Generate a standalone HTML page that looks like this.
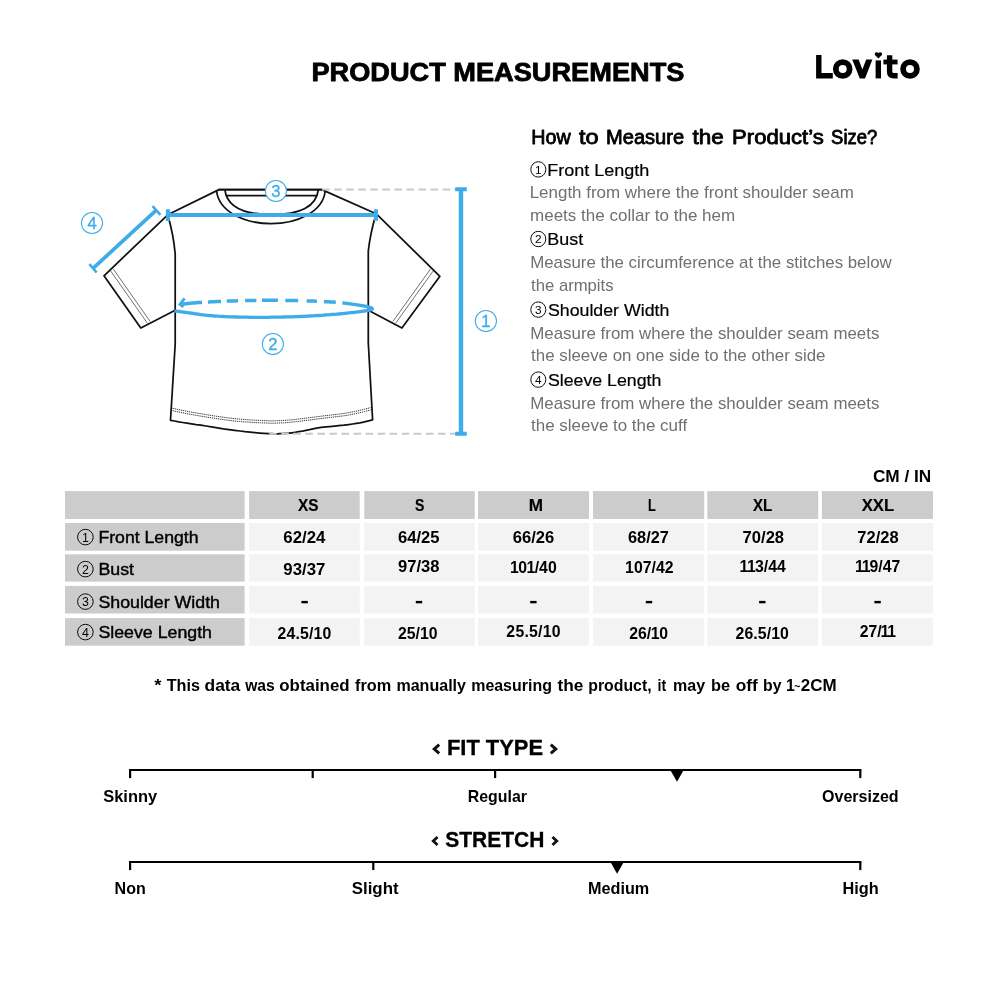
<!DOCTYPE html>
<html lang="en"><head><meta charset="utf-8"><title>Product Measurements</title>
<style>html,body{margin:0;padding:0;background:#fff;}body{width:1000px;height:1000px;overflow:hidden;font-family:"Liberation Sans",sans-serif;}svg{display:block;font-family:"Liberation Sans",sans-serif;will-change:transform;transform:translateZ(0);}text{white-space:pre;}</style></head><body>
<svg width="1000" height="1000" viewBox="0 0 1000 1000">
<rect width="1000" height="1000" fill="#fff"/>
<text x="311.4" y="81.4" font-size="26.2" font-weight="bold" fill="#000" text-anchor="start" textLength="373" lengthAdjust="spacingAndGlyphs" stroke="#000" stroke-width="0.8" stroke-linejoin="round">PRODUCT MEASUREMENTS</text>
<g id="logo" fill="none" stroke="#000">
<path d="M818.8 55 V75.8 H832.8" stroke-width="5.4" stroke-linejoin="miter"/>
<circle cx="842.7" cy="69" r="6.9" stroke-width="5.8"/>
<path d="M878.3 60.4 V78.4" stroke-width="5.4"/>
<path d="M889.6 55.2 V71.6 Q889.6 75.8 894 75.8 H897.6" stroke-width="5.4"/>
<path d="M883.4 62 H897.6" stroke-width="4.8"/>
<circle cx="910" cy="69" r="6.9" stroke-width="5.8"/>
</g>
<path d="M852.2 59.6 H858.6 L862.4 69.6 L866.2 59.6 H872.4 L865 78.4 H859.8 Z" fill="#000"/>
<path d="M878.4 58.5 L874.7 54.7 Q874.5 52.3 876.7 52.3 Q877.8 52.3 878.4 53.3 Q879 52.3 880.1 52.3 Q882.3 52.3 882.1 54.7 Z" fill="#000"/>
<g id="shirt" fill="none" stroke="#111" stroke-width="1.75" stroke-linejoin="round" stroke-linecap="round">
<path d="M219 189.6 L167.7 214.8 Q173.6 235 175.2 254 L175.2 344 L170.5 420.3 L174.6 421.0 L178.6 421.8 L182.7 422.5 L187.0 423.2 L191.5 423.9 L196.1 424.6 L200.9 425.2 L206.0 426.0 L211.5 426.9 L217.4 427.8 L223.3 428.8 L229.0 429.6 L234.5 430.3 L239.8 431.0 L245.0 431.7 L250.0 432.2 L254.9 432.7 L259.6 433.1 L264.0 433.4 L268.0 433.6 L271.4 433.7 L274.4 433.8 L277.1 433.8 L280.0 433.7 L283.0 433.6 L285.9 433.4 L288.9 433.2 L292.0 432.8 L295.3 432.3 L298.8 431.7 L302.4 431.1 L306.0 430.4 L309.5 429.7 L312.9 428.9 L316.7 428.1 L321.0 427.4 L326.4 426.8 L332.4 426.3 L338.6 425.7 L344.0 425.2 L348.6 424.6 L352.7 424.0 L356.4 423.4 L360.0 422.8 L363.4 422.1 L366.5 421.3 L369.5 420.6 L372.6 419.8 L368.3 343 L368.3 251 Q370.3 233 376.1 213.7 L321.8 189.6 Z" fill="#fff"/>
<path d="M167.7 214.8 L104 275.8 L140.8 328 L175.2 310.3"/>
<path d="M376.1 213.7 L439.9 276.3 L401.9 328 L368.3 310.3"/>
<path d="M219 189.6 H321.8"/>
<path d="M226.6 195.6 H316.2"/>
<path d="M216.6 191 C219 212 245 223.6 271 223.6 C297 223.6 323 212 325.2 191"/>
<path d="M224.9 189.8 C226.5 203 238 214.5 271.6 214.5 C305.2 214.5 316.7 203 318.3 189.8"/>
</g>
<g fill="none" stroke="#333" stroke-width="0.7">
<path d="M110.7 271 L147.4 323.2 M113.4 269.2 L150 321.3"/>
<path d="M433.2 271 L395.6 323.2 M430.4 269.2 L393 321.3"/>
</g>
<g fill="none" stroke="#222" stroke-width="0.9" stroke-dasharray="1.3 0.8">
<path d="M172.6 408.3 L176.4 409.1 L180.1 409.9 L184.0 410.7 L188.0 411.5 L192.2 412.3 L196.5 413.0 L201.1 413.8 L206.0 414.6 L211.4 415.5 L217.3 416.4 L223.3 417.2 L229.0 418.0 L234.4 418.6 L239.7 419.1 L244.8 419.5 L250.0 419.9 L255.3 420.2 L260.7 420.5 L265.8 420.7 L270.4 420.8 L274.3 420.8 L277.6 420.7 L280.7 420.6 L284.0 420.4 L287.3 420.2 L290.4 419.9 L293.9 419.6 L298.0 419.1 L303.1 418.5 L308.9 417.7 L315.0 417.0 L321.0 416.2 L327.0 415.5 L333.1 414.8 L338.9 414.1 L344.0 413.4 L348.2 412.7 L351.7 412.1 L354.8 411.5 L358.0 410.8 L361.2 410.0 L364.4 409.2 L367.5 408.4 L370.6 407.6"/>
<path d="M172.6 410.7 L176.4 411.5 L180.1 412.3 L184.0 413.1 L188.0 413.9 L192.2 414.6 L196.5 415.4 L201.1 416.2 L206.0 417.0 L211.4 417.8 L217.3 418.7 L223.3 419.6 L229.0 420.4 L234.4 421.0 L239.7 421.5 L244.8 421.9 L250.0 422.2 L255.3 422.6 L260.7 422.8 L265.8 423.0 L270.4 423.2 L274.3 423.2 L277.6 423.1 L280.7 422.9 L284.0 422.8 L287.3 422.5 L290.4 422.3 L293.9 421.9 L298.0 421.5 L303.1 420.8 L308.9 420.1 L315.0 419.3 L321.0 418.6 L327.0 417.8 L333.1 417.1 L338.9 416.4 L344.0 415.8 L348.2 415.1 L351.7 414.5 L354.8 413.8 L358.0 413.2 L361.2 412.4 L364.4 411.6 L367.5 410.8 L370.6 410.0"/>
</g>
<g fill="none" stroke="#c9c9c9" stroke-width="1.9" stroke-dasharray="7.6 4.45">
<path d="M322.1 189.5 H456"/>
<path d="M269.15 433.7 H456"/>
</g>
<g id="measure" fill="none" stroke="#3dace8">
<path d="M461.0 188 V435" stroke-width="4.4"/>
<path d="M455.2 189.2 H466.8 M455.2 433.7 H466.8" stroke-width="4"/>
<path d="M167 214.9 H378" stroke-width="4"/>
<path d="M167.9 209.2 V221 M376.0 209.2 V220.8" stroke-width="4"/>
<path d="M156.3 210.2 L93 268.4" stroke-width="3.7"/>
<path d="M152.6 206.2 L160.4 214.8 M89.4 264.2 L96.6 272.5" stroke-width="2.6"/>
<path d="M342.4 302.9 L343.3 303.0 L344.2 303.1 L345.0 303.2 L345.8 303.3 L346.6 303.4 L347.4 303.5 L348.1 303.6 L348.9 303.7 L349.7 303.8 L350.4 303.9 L351.2 304.0 L352.0 304.1 L352.8 304.2 L353.6 304.3 L354.5 304.5 L355.3 304.6 L356.1 304.7 L357.0 304.8 L357.8 305.0 L358.6 305.1 L359.4 305.2 L360.2 305.4 L360.9 305.5 L361.6 305.6 L362.3 305.7 L362.9 305.8 L363.6 305.9 L364.2 306.0 L364.8 306.1 L365.4 306.2 L365.9 306.3 L366.4 306.4 L367.0 306.5 L367.5 306.7 L367.9 306.8 L368.4 306.9 L368.9 307.0 L369.3 307.2 L369.8 307.3 L370.2 307.5 L370.7 307.6 L371.1 307.8 L371.4 307.9 L371.8 308.1 L372.0 308.3 L372.2 308.4 L372.4 308.6 L372.4 308.7 L372.4 308.8 L372.2 309.0 L372.1 309.1 L371.8 309.3 L371.5 309.4 L371.2 309.5 L370.8 309.7 L370.4 309.8 L369.9 309.9 L369.4 310.1 L368.9 310.2 L368.4 310.3 L367.9 310.4 L367.4 310.5 L366.9 310.6 L366.4 310.7 L365.8 310.8 L365.2 310.9 L364.5 311.0 L363.8 311.1 L363.0 311.2 L362.1 311.3 L361.1 311.5 L360.0 311.6 L358.7 311.8 L357.3 311.9 L355.8 312.1 L354.2 312.3 L352.5 312.5 L350.7 312.7 L348.9 312.9 L347.1 313.1 L345.3 313.3 L343.5 313.5 L341.7 313.6 L340.0 313.8 L338.3 314.0 L336.7 314.1 L335.0 314.3 L333.3 314.4 L331.7 314.5 L330.0 314.7 L328.3 314.8 L326.7 314.9 L325.0 315.0 L323.3 315.2 L321.7 315.3 L320.0 315.4 L318.3 315.5 L316.7 315.6 L315.0 315.7 L313.3 315.8 L311.7 315.9 L310.0 316.0 L308.3 316.1 L306.7 316.2 L305.0 316.3 L303.3 316.4 L301.7 316.4 L300.0 316.5 L298.3 316.6 L296.6 316.6 L295.0 316.7 L293.3 316.8 L291.6 316.8 L289.9 316.9 L288.2 316.9 L286.5 316.9 L284.9 317.0 L283.2 317.0 L281.6 317.1 L280.0 317.1 L278.4 317.1 L276.9 317.2 L275.3 317.2 L273.8 317.2 L272.3 317.2 L270.8 317.2 L269.3 317.3 L267.9 317.3 L266.4 317.3 L264.9 317.3 L263.5 317.3 L262.0 317.3 L260.6 317.3 L259.1 317.3 L257.8 317.3 L256.4 317.3 L255.0 317.3 L253.6 317.3 L252.2 317.3 L250.9 317.3 L249.4 317.3 L248.0 317.2 L246.5 317.2 L245.0 317.2 L243.4 317.2 L241.8 317.1 L240.2 317.1 L238.6 317.1 L236.9 317.0 L235.2 317.0 L233.5 316.9 L231.8 316.9 L230.1 316.8 L228.4 316.8 L226.7 316.7 L225.0 316.6 L223.3 316.5 L221.6 316.4 L219.9 316.3 L218.2 316.2 L216.5 316.1 L214.8 316.0 L213.0 315.8 L211.4 315.7 L209.7 315.6 L208.1 315.4 L206.5 315.3 L205.0 315.1 L203.5 314.9 L202.1 314.8 L200.7 314.6 L199.3 314.4 L198.0 314.2 L196.7 314.0 L195.4 313.8 L194.1 313.6 L192.8 313.4 L191.5 313.2 L190.3 313.0 L189.0 312.8 L187.7 312.6 L186.5 312.5 L185.3 312.3 L184.0 312.1 L182.8 312.0 L181.6 311.8 L180.4 311.7 L179.2 311.5 L178.0 311.4 L176.8 311.2 L175.6 311.1 L174.4 310.9" stroke-width="3.3" stroke-linejoin="round"/>
<path d="M181.2 304.3 L182.0 304.2 L182.7 304.1 L183.5 304.0 L184.3 303.9 L185.0 303.8 L185.8 303.8 L186.6 303.7 L187.4 303.6 L188.3 303.5 L189.1 303.4 L190.0 303.3 L190.9 303.2 L191.8 303.1 L192.7 303.0 L193.6 303.0 L194.5 302.9 L195.4 302.8 L196.4 302.7 L197.4 302.6 L198.5 302.5 L199.6 302.5 L200.7 302.4 L202.0 302.3 M207.9 302.0 L209.5 301.9 L211.2 301.8 L212.9 301.7 L214.6 301.7 L216.2 301.6 L217.9 301.5 L219.5 301.5 L221.0 301.4 M226.8 301.2 L228.2 301.1 L229.6 301.1 L231.0 301.0 L232.4 301.0 L233.8 300.9 L235.2 300.9 L236.6 300.8 L238.0 300.8 M245.1 300.6 L246.5 300.6 L247.9 300.5 L249.3 300.5 L250.8 300.5 L252.2 300.4 L253.6 300.4 L255.0 300.4 L256.4 300.4 M262.0 300.3 L263.4 300.3 L264.8 300.3 L266.3 300.3 L267.7 300.3 L269.1 300.3 L270.5 300.3 L272.0 300.3 L273.5 300.3 L274.9 300.3 L276.4 300.3 L277.9 300.3 M285.3 300.4 L286.9 300.4 L288.4 300.5 L290.0 300.5 L291.6 300.5 L293.2 300.6 L294.9 300.6 L296.5 300.6 L298.2 300.7 M306.6 300.9 L308.3 300.9 L310.0 301.0 L311.7 301.1 L313.4 301.1 L315.2 301.2 L316.9 301.3 M323.9 301.6 L325.5 301.7 L327.1 301.7 L328.6 301.8 L330.0 301.9 L331.3 302.0 L332.5 302.1 L333.7 302.1 L334.8 302.2 L335.8 302.3" stroke-width="3.5"/>
<path d="M184.6 298.3 L179.9 304.5 L183.5 306.9" stroke-width="2.8" stroke-linejoin="miter"/>
</g>
<circle cx="275.9" cy="191.0" r="10.6" fill="#fff" stroke="#3dace8" stroke-width="1.05"/>
<text x="275.9" y="196.8" font-size="16.6" font-weight="normal" fill="#3dace8" stroke="#3dace8" stroke-width="0.35" text-anchor="middle">3</text>
<circle cx="485.9" cy="321.0" r="10.6" fill="#fff" stroke="#3dace8" stroke-width="1.05"/>
<text x="485.9" y="326.8" font-size="16.6" font-weight="normal" fill="#3dace8" stroke="#3dace8" stroke-width="0.35" text-anchor="middle">1</text>
<circle cx="272.9" cy="344.0" r="10.6" fill="#fff" stroke="#3dace8" stroke-width="1.05"/>
<text x="272.9" y="349.8" font-size="16.6" font-weight="normal" fill="#3dace8" stroke="#3dace8" stroke-width="0.35" text-anchor="middle">2</text>
<circle cx="92.0" cy="223.0" r="10.6" fill="#fff" stroke="#3dace8" stroke-width="1.05"/>
<text x="92.0" y="228.8" font-size="16.6" font-weight="normal" fill="#3dace8" stroke="#3dace8" stroke-width="0.35" text-anchor="middle">4</text>
<text x="531.3" y="144.0" font-size="19.6" font-weight="normal" fill="#000" text-anchor="start" textLength="39.4" lengthAdjust="spacingAndGlyphs" stroke="#000" stroke-width="0.8" stroke-linejoin="round">How</text>
<text x="579.0" y="144.0" font-size="19.6" font-weight="normal" fill="#000" text-anchor="start" textLength="19.6" lengthAdjust="spacingAndGlyphs" stroke="#000" stroke-width="0.8" stroke-linejoin="round">to</text>
<text x="606.0" y="144.0" font-size="19.6" font-weight="normal" fill="#000" text-anchor="start" textLength="78.1" lengthAdjust="spacingAndGlyphs" stroke="#000" stroke-width="0.8" stroke-linejoin="round">Measure</text>
<text x="692.5" y="144.0" font-size="19.6" font-weight="normal" fill="#000" text-anchor="start" textLength="31.2" lengthAdjust="spacingAndGlyphs" stroke="#000" stroke-width="0.8" stroke-linejoin="round">the</text>
<text x="732.1" y="144.0" font-size="19.6" font-weight="normal" fill="#000" text-anchor="start" textLength="91.6" lengthAdjust="spacingAndGlyphs" stroke="#000" stroke-width="0.8" stroke-linejoin="round">Product’s</text>
<text x="831.1" y="144.0" font-size="19.6" font-weight="normal" fill="#000" text-anchor="start" textLength="46.2" lengthAdjust="spacingAndGlyphs" stroke="#000" stroke-width="0.8" stroke-linejoin="round">Size?</text>
<ellipse cx="538.3" cy="169.4" rx="7.5" ry="7.7" fill="none" stroke="#000" stroke-width="0.95"/>
<text x="538.3" y="173.6" font-size="11.8" font-weight="normal" fill="#000" text-anchor="middle">1</text>
<text x="547.2" y="176.1" font-size="16.7" font-weight="normal" fill="#000" text-anchor="start" textLength="102" lengthAdjust="spacingAndGlyphs" stroke="#000" stroke-width="0.2">Front Length</text>
<text x="529.7" y="197.9" font-size="16.2" font-weight="normal" fill="#707070" text-anchor="start" textLength="324.1" lengthAdjust="spacingAndGlyphs">Length from where the front shoulder seam</text>
<text x="530.0" y="221.4" font-size="16.2" font-weight="normal" fill="#707070" text-anchor="start" textLength="205.2" lengthAdjust="spacingAndGlyphs">meets the collar to the hem</text>
<ellipse cx="538.3" cy="239.0" rx="7.5" ry="7.7" fill="none" stroke="#000" stroke-width="0.95"/>
<text x="538.3" y="243.2" font-size="11.8" font-weight="normal" fill="#000" text-anchor="middle">2</text>
<text x="547.3" y="245.0" font-size="16.7" font-weight="normal" fill="#000" text-anchor="start" textLength="35.9" lengthAdjust="spacingAndGlyphs" stroke="#000" stroke-width="0.2">Bust</text>
<text x="530.2" y="268.2" font-size="16.2" font-weight="normal" fill="#707070" text-anchor="start" textLength="361.6" lengthAdjust="spacingAndGlyphs">Measure the circumference at the stitches below</text>
<text x="531.1" y="291.4" font-size="16.2" font-weight="normal" fill="#707070" text-anchor="start" textLength="82.4" lengthAdjust="spacingAndGlyphs">the armpits</text>
<ellipse cx="538.3" cy="309.6" rx="7.5" ry="7.7" fill="none" stroke="#000" stroke-width="0.95"/>
<text x="538.3" y="313.8" font-size="11.8" font-weight="normal" fill="#000" text-anchor="middle">3</text>
<text x="547.9" y="315.8" font-size="16.7" font-weight="normal" fill="#000" text-anchor="start" textLength="121.5" lengthAdjust="spacingAndGlyphs" stroke="#000" stroke-width="0.2">Shoulder Width</text>
<text x="530.2" y="338.7" font-size="16.2" font-weight="normal" fill="#707070" text-anchor="start" textLength="349.2" lengthAdjust="spacingAndGlyphs">Measure from where the shoulder seam meets</text>
<text x="531.1" y="361.2" font-size="16.2" font-weight="normal" fill="#707070" text-anchor="start" textLength="294.4" lengthAdjust="spacingAndGlyphs">the sleeve on one side to the other side</text>
<ellipse cx="538.3" cy="379.6" rx="7.5" ry="7.7" fill="none" stroke="#000" stroke-width="0.95"/>
<text x="538.3" y="383.8" font-size="11.8" font-weight="normal" fill="#000" text-anchor="middle">4</text>
<text x="547.9" y="385.5" font-size="16.7" font-weight="normal" fill="#000" text-anchor="start" textLength="113.5" lengthAdjust="spacingAndGlyphs" stroke="#000" stroke-width="0.2">Sleeve Length</text>
<text x="530.2" y="408.6" font-size="16.2" font-weight="normal" fill="#707070" text-anchor="start" textLength="349.2" lengthAdjust="spacingAndGlyphs">Measure from where the shoulder seam meets</text>
<text x="531.1" y="431.4" font-size="16.2" font-weight="normal" fill="#707070" text-anchor="start" textLength="156" lengthAdjust="spacingAndGlyphs">the sleeve to the cuff</text>
<text x="872.9" y="481.9" font-size="17.2" font-weight="bold" fill="#000" text-anchor="start" textLength="58.4" lengthAdjust="spacingAndGlyphs">CM / IN</text>
<rect x="65" y="491.1" width="179.6" height="27.9" fill="#cccccc"/>
<rect x="249.1" y="491.1" width="110.6" height="27.9" fill="#cccccc"/>
<rect x="364.3" y="491.1" width="110.4" height="27.9" fill="#cccccc"/>
<rect x="478" y="491.1" width="111.0" height="27.9" fill="#cccccc"/>
<rect x="593" y="491.1" width="111.2" height="27.9" fill="#cccccc"/>
<rect x="707.3" y="491.1" width="110.9" height="27.9" fill="#cccccc"/>
<rect x="821.9" y="491.1" width="111.1" height="27.9" fill="#cccccc"/>
<rect x="65" y="523" width="179.6" height="27.7" fill="#cccccc"/>
<rect x="249.1" y="523" width="110.6" height="27.7" fill="#f3f3f3"/>
<rect x="364.3" y="523" width="110.4" height="27.7" fill="#f3f3f3"/>
<rect x="478" y="523" width="111.0" height="27.7" fill="#f3f3f3"/>
<rect x="593" y="523" width="111.2" height="27.7" fill="#f3f3f3"/>
<rect x="707.3" y="523" width="110.9" height="27.7" fill="#f3f3f3"/>
<rect x="821.9" y="523" width="111.1" height="27.7" fill="#f3f3f3"/>
<rect x="65" y="554.3" width="179.6" height="27.3" fill="#cccccc"/>
<rect x="249.1" y="554.3" width="110.6" height="27.3" fill="#f3f3f3"/>
<rect x="364.3" y="554.3" width="110.4" height="27.3" fill="#f3f3f3"/>
<rect x="478" y="554.3" width="111.0" height="27.3" fill="#f3f3f3"/>
<rect x="593" y="554.3" width="111.2" height="27.3" fill="#f3f3f3"/>
<rect x="707.3" y="554.3" width="110.9" height="27.3" fill="#f3f3f3"/>
<rect x="821.9" y="554.3" width="111.1" height="27.3" fill="#f3f3f3"/>
<rect x="65" y="585.9" width="179.6" height="27.6" fill="#cccccc"/>
<rect x="249.1" y="585.9" width="110.6" height="27.6" fill="#f3f3f3"/>
<rect x="364.3" y="585.9" width="110.4" height="27.6" fill="#f3f3f3"/>
<rect x="478" y="585.9" width="111.0" height="27.6" fill="#f3f3f3"/>
<rect x="593" y="585.9" width="111.2" height="27.6" fill="#f3f3f3"/>
<rect x="707.3" y="585.9" width="110.9" height="27.6" fill="#f3f3f3"/>
<rect x="821.9" y="585.9" width="111.1" height="27.6" fill="#f3f3f3"/>
<rect x="65" y="618.1" width="179.6" height="27.6" fill="#cccccc"/>
<rect x="249.1" y="618.1" width="110.6" height="27.6" fill="#f3f3f3"/>
<rect x="364.3" y="618.1" width="110.4" height="27.6" fill="#f3f3f3"/>
<rect x="478" y="618.1" width="111.0" height="27.6" fill="#f3f3f3"/>
<rect x="593" y="618.1" width="111.2" height="27.6" fill="#f3f3f3"/>
<rect x="707.3" y="618.1" width="110.9" height="27.6" fill="#f3f3f3"/>
<rect x="821.9" y="618.1" width="111.1" height="27.6" fill="#f3f3f3"/>
<text x="298.0" y="510.8" font-size="16.9" font-weight="bold" fill="#000" text-anchor="start" textLength="20.5" lengthAdjust="spacingAndGlyphs" stroke="#000" stroke-width="0.15">XS</text>
<text x="414.9" y="510.8" font-size="16.9" font-weight="bold" fill="#000" text-anchor="start" textLength="9.4" lengthAdjust="spacingAndGlyphs" stroke="#000" stroke-width="0.15">S</text>
<text x="528.7" y="510.8" font-size="16.9" font-weight="bold" fill="#000" text-anchor="start" textLength="14.3" lengthAdjust="spacingAndGlyphs" stroke="#000" stroke-width="0.15">M</text>
<text x="648.0" y="510.8" font-size="16.9" font-weight="bold" fill="#000" text-anchor="start" textLength="7.8" lengthAdjust="spacingAndGlyphs" stroke="#000" stroke-width="0.15">L</text>
<text x="753.0" y="510.8" font-size="16.9" font-weight="bold" fill="#000" text-anchor="start" textLength="19.3" lengthAdjust="spacingAndGlyphs" stroke="#000" stroke-width="0.15">XL</text>
<text x="861.7" y="510.8" font-size="16.9" font-weight="bold" fill="#000" text-anchor="start" textLength="32.5" lengthAdjust="spacingAndGlyphs" stroke="#000" stroke-width="0.15">XXL</text>
<circle cx="85.4" cy="537.1" r="7.8" fill="none" stroke="#000" stroke-width="0.95"/>
<text x="85.4" y="541.5640000000001" font-size="12.4" font-weight="normal" fill="#000" text-anchor="middle">1</text>
<text x="98.4" y="543" font-size="16.2" font-weight="normal" fill="#000" text-anchor="start" textLength="100.19999999999999" lengthAdjust="spacingAndGlyphs" stroke="#000" stroke-width="0.4">Front Length</text>
<circle cx="85.4" cy="569.1" r="7.8" fill="none" stroke="#000" stroke-width="0.95"/>
<text x="85.4" y="573.5640000000001" font-size="12.4" font-weight="normal" fill="#000" text-anchor="middle">2</text>
<text x="98.4" y="575" font-size="16.2" font-weight="normal" fill="#000" text-anchor="start" textLength="35.6" lengthAdjust="spacingAndGlyphs" stroke="#000" stroke-width="0.4">Bust</text>
<circle cx="85.4" cy="601.6" r="7.8" fill="none" stroke="#000" stroke-width="0.95"/>
<text x="85.4" y="606.0640000000001" font-size="12.4" font-weight="normal" fill="#000" text-anchor="middle">3</text>
<text x="98.4" y="607.5" font-size="16.2" font-weight="normal" fill="#000" text-anchor="start" textLength="121.6" lengthAdjust="spacingAndGlyphs" stroke="#000" stroke-width="0.4">Shoulder Width</text>
<circle cx="85.4" cy="632.1" r="7.8" fill="none" stroke="#000" stroke-width="0.95"/>
<text x="85.4" y="636.5640000000001" font-size="12.4" font-weight="normal" fill="#000" text-anchor="middle">4</text>
<text x="98.4" y="638" font-size="16.2" font-weight="normal" fill="#000" text-anchor="start" textLength="113.6" lengthAdjust="spacingAndGlyphs" stroke="#000" stroke-width="0.4">Sleeve Length</text>
<text x="283.3" y="543.1" font-size="15.8" font-weight="bold" fill="#000" text-anchor="start" textLength="42.0" lengthAdjust="spacingAndGlyphs">62/24</text>
<text x="398.0" y="543.1" font-size="15.8" font-weight="bold" fill="#000" text-anchor="start" textLength="41.5" lengthAdjust="spacingAndGlyphs">64/25</text>
<text x="512.8" y="543.1" font-size="15.8" font-weight="bold" fill="#000" text-anchor="start" textLength="41.5" lengthAdjust="spacingAndGlyphs">66/26</text>
<text x="628.0" y="543.1" font-size="15.8" font-weight="bold" fill="#000" text-anchor="start" textLength="40.8" lengthAdjust="spacingAndGlyphs">68/27</text>
<text x="742.6" y="542.5" font-size="15.8" font-weight="bold" fill="#000" text-anchor="start" textLength="41.5" lengthAdjust="spacingAndGlyphs">70/28</text>
<text x="857.3" y="542.5" font-size="15.8" font-weight="bold" fill="#000" text-anchor="start" textLength="41.3" lengthAdjust="spacingAndGlyphs">72/28</text>
<text x="283.3" y="575" font-size="15.8" font-weight="bold" fill="#000" text-anchor="start" textLength="42.0" lengthAdjust="spacingAndGlyphs">93/37</text>
<text x="398.0" y="571.9" font-size="15.8" font-weight="bold" fill="#000" text-anchor="start" textLength="41.5" lengthAdjust="spacingAndGlyphs">97/38</text>
<text x="509.89 518.17 526.45 534.73 539.12 547.91" y="572.6" font-size="15.8" font-weight="bold" fill="#000">101/40</text>
<text x="625.12 633.93 642.75 651.56 655.98 664.80" y="572.6" font-size="15.8" font-weight="bold" fill="#000">107/42</text>
<text x="739.52 746.94 755.05 763.83 768.22 777.01" y="572.4" font-size="15.8" font-weight="bold" fill="#000">113/44</text>
<text x="854.92 861.74 869.55 878.33 882.72 891.51" y="572.4" font-size="15.8" font-weight="bold" fill="#000">119/47</text>
<text x="277.61 286.61 295.56 300.11 309.05 313.60 322.61" y="638.6" font-size="15.8" font-weight="bold" fill="#000">24.5/10</text>
<text x="398.01 406.81 415.61 420.00 428.81" y="638.6" font-size="15.8" font-weight="bold" fill="#000">25/10</text>
<text x="506.27 515.38 524.42 529.06 538.09 542.73 551.85" y="637.4" font-size="15.8" font-weight="bold" fill="#000">25.5/10</text>
<text x="629.20 637.99 646.78 650.84 659.31" y="638.6" font-size="15.8" font-weight="bold" fill="#000">26/10</text>
<text x="735.47 744.38 753.27 757.76 766.64 771.13 780.05" y="638.6" font-size="15.8" font-weight="bold" fill="#000">26.5/10</text>
<text x="859.70 868.49 877.28 880.60 887.27" y="637.4" font-size="15.8" font-weight="bold" fill="#000">27/11</text>
<rect x="301.40000000000003" y="600.9" width="6.4" height="2.4" fill="#000"/>
<rect x="415.8" y="600.9" width="6.4" height="2.4" fill="#000"/>
<rect x="530.1999999999999" y="600.9" width="6.4" height="2.4" fill="#000"/>
<rect x="645.8" y="600.9" width="6.4" height="2.4" fill="#000"/>
<rect x="759.0999999999999" y="600.9" width="6.4" height="2.4" fill="#000"/>
<rect x="874.4" y="600.9" width="6.4" height="2.4" fill="#000"/>
<text x="154.3" y="690.9" font-size="15.8" font-weight="bold" fill="#000" text-anchor="start" textLength="7.2" lengthAdjust="spacingAndGlyphs">*</text>
<text x="166.7" y="690.9" font-size="15.8" font-weight="bold" fill="#000" text-anchor="start" textLength="33.3" lengthAdjust="spacingAndGlyphs">This</text>
<text x="204.5" y="690.9" font-size="15.8" font-weight="bold" fill="#000" text-anchor="start" textLength="35.8" lengthAdjust="spacingAndGlyphs">data</text>
<text x="245.2" y="690.9" font-size="15.8" font-weight="bold" fill="#000" text-anchor="start" textLength="29.6" lengthAdjust="spacingAndGlyphs">was</text>
<text x="279.3" y="690.9" font-size="15.8" font-weight="bold" fill="#000" text-anchor="start" textLength="70.3" lengthAdjust="spacingAndGlyphs">obtained</text>
<text x="355.0" y="690.9" font-size="15.8" font-weight="bold" fill="#000" text-anchor="start" textLength="36.2" lengthAdjust="spacingAndGlyphs">from</text>
<text x="396.4" y="690.9" font-size="15.8" font-weight="bold" fill="#000" text-anchor="start" textLength="69.6" lengthAdjust="spacingAndGlyphs">manually</text>
<text x="471.2" y="690.9" font-size="15.8" font-weight="bold" fill="#000" text-anchor="start" textLength="80.7" lengthAdjust="spacingAndGlyphs">measuring</text>
<text x="557.5" y="690.9" font-size="15.8" font-weight="bold" fill="#000" text-anchor="start" textLength="25.9" lengthAdjust="spacingAndGlyphs">the</text>
<text x="588.3" y="690.9" font-size="15.8" font-weight="bold" fill="#000" text-anchor="start" textLength="63.3" lengthAdjust="spacingAndGlyphs">product,</text>
<text x="657.6" y="690.9" font-size="15.8" font-weight="bold" fill="#000" text-anchor="start" textLength="8.7" lengthAdjust="spacingAndGlyphs">it</text>
<text x="673.0" y="690.9" font-size="15.8" font-weight="bold" fill="#000" text-anchor="start" textLength="32.1" lengthAdjust="spacingAndGlyphs">may</text>
<text x="711.1" y="690.9" font-size="15.8" font-weight="bold" fill="#000" text-anchor="start" textLength="19.1" lengthAdjust="spacingAndGlyphs">be</text>
<text x="735.7" y="690.9" font-size="15.8" font-weight="bold" fill="#000" text-anchor="start" textLength="22.1" lengthAdjust="spacingAndGlyphs">off</text>
<text x="763.1" y="690.9" font-size="15.8" font-weight="bold" fill="#000" text-anchor="start" textLength="18.5" lengthAdjust="spacingAndGlyphs">by</text>
<text x="785.9" y="690.9" font-size="15.8" font-weight="bold" fill="#000" text-anchor="start">1</text>
<text x="794.3" y="690.3" font-size="10.4" font-weight="bold" fill="#000" text-anchor="start">~</text>
<text x="800.75" y="690.9" font-size="15.8" font-weight="bold" fill="#000" text-anchor="start" textLength="35.85" lengthAdjust="spacingAndGlyphs">2CM</text>
<path d="M439.21 744.72 L434.26 749.10 L439.21 753.48" fill="none" stroke="#111" stroke-width="3.0" stroke-linejoin="miter" stroke-miterlimit="10"/>
<text x="447.0" y="754.9" font-size="21.6" font-weight="bold" fill="#000" text-anchor="start" textLength="96" lengthAdjust="spacingAndGlyphs" stroke="#000" stroke-width="0.3">FIT TYPE</text>
<path d="M550.79 744.72 L555.74 749.10 L550.79 753.48" fill="none" stroke="#111" stroke-width="3.0" stroke-linejoin="miter" stroke-miterlimit="10"/>
<path d="M129.0 770.0 H861.4" stroke="#000" stroke-width="1.9" fill="none"/>
<path d="M130.1 770.0 V778.1" stroke="#000" stroke-width="2.2" fill="none"/>
<path d="M312.7 770.0 V778.1" stroke="#000" stroke-width="2.2" fill="none"/>
<path d="M495.1 770.0 V778.1" stroke="#000" stroke-width="2.2" fill="none"/>
<path d="M860.3 770.0 V778.1" stroke="#000" stroke-width="2.2" fill="none"/>
<path d="M670.3 770.0 H683.7 L677.0 781.7 Z" fill="#000"/>
<text x="103.2" y="801.8" font-size="16.4" font-weight="bold" fill="#000" text-anchor="start" textLength="54.0" lengthAdjust="spacingAndGlyphs">Skinny</text>
<text x="467.8" y="801.8" font-size="16.4" font-weight="bold" fill="#000" text-anchor="start" textLength="59.2" lengthAdjust="spacingAndGlyphs">Regular</text>
<text x="822.1" y="801.8" font-size="16.4" font-weight="bold" fill="#000" text-anchor="start" textLength="76.5" lengthAdjust="spacingAndGlyphs">Oversized</text>
<path d="M437.54 836.92 L433.25 840.95 L437.54 844.98" fill="none" stroke="#111" stroke-width="2.8" stroke-linejoin="miter" stroke-miterlimit="10"/>
<text x="445.3" y="846.9" font-size="21.4" font-weight="bold" fill="#000" text-anchor="start" textLength="99" lengthAdjust="spacingAndGlyphs" stroke="#000" stroke-width="0.3">STRETCH</text>
<path d="M552.46 836.92 L556.75 840.95 L552.46 844.98" fill="none" stroke="#111" stroke-width="2.8" stroke-linejoin="miter" stroke-miterlimit="10"/>
<path d="M129.0 862.0 H861.4" stroke="#000" stroke-width="1.9" fill="none"/>
<path d="M130.1 862.0 V870.1" stroke="#000" stroke-width="2.2" fill="none"/>
<path d="M373.3 862.0 V870.1" stroke="#000" stroke-width="2.2" fill="none"/>
<path d="M860.3 862.0 V870.1" stroke="#000" stroke-width="2.2" fill="none"/>
<path d="M610.4 862.0 H623.8000000000001 L617.1 873.7 Z" fill="#000"/>
<text x="114.6" y="893.8" font-size="16.4" font-weight="bold" fill="#000" text-anchor="start" textLength="31.2" lengthAdjust="spacingAndGlyphs">Non</text>
<text x="351.7" y="893.8" font-size="16.4" font-weight="bold" fill="#000" text-anchor="start" textLength="46.9" lengthAdjust="spacingAndGlyphs">Slight</text>
<text x="588.0" y="893.8" font-size="16.4" font-weight="bold" fill="#000" text-anchor="start" textLength="61.2" lengthAdjust="spacingAndGlyphs">Medium</text>
<text x="842.5" y="893.8" font-size="16.4" font-weight="bold" fill="#000" text-anchor="start" textLength="36.2" lengthAdjust="spacingAndGlyphs">High</text>
</svg></body></html>
